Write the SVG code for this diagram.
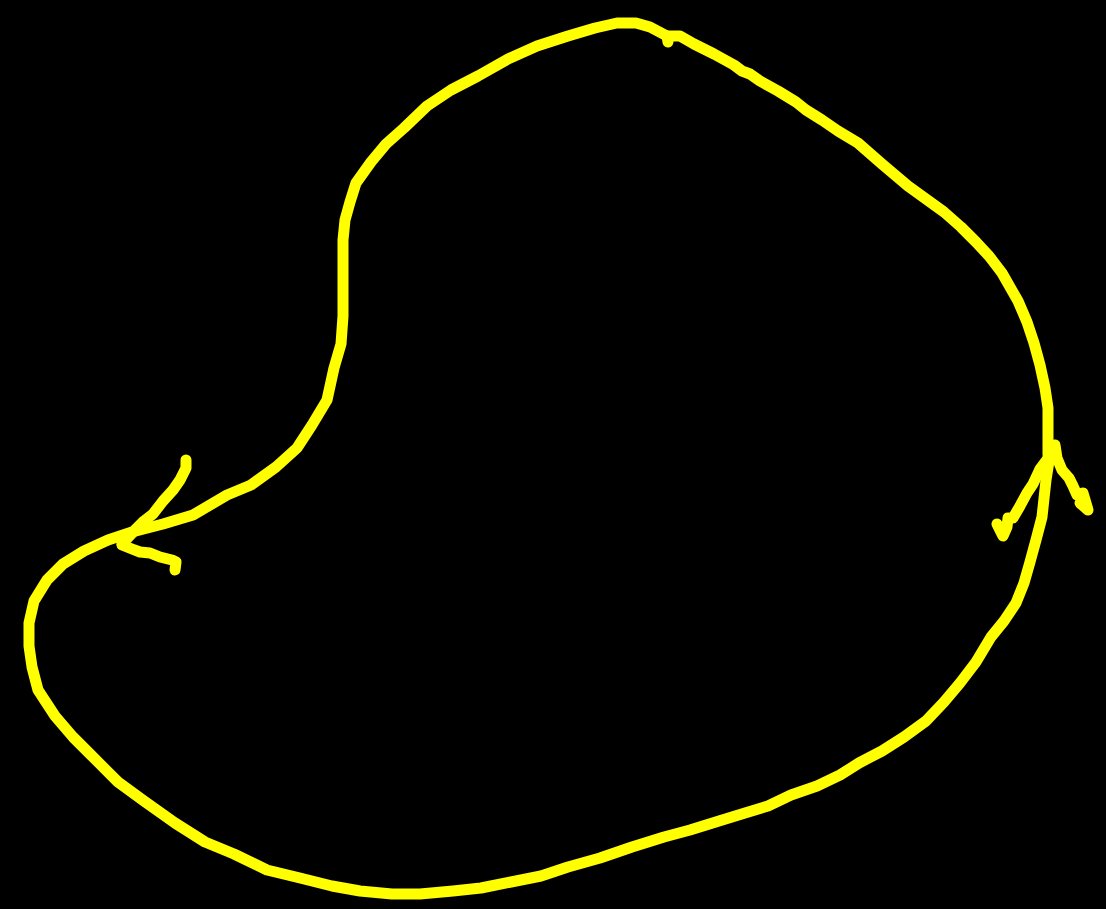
<svg xmlns="http://www.w3.org/2000/svg" width="1106" height="909" viewBox="0 0 1106 909">
<style>
.s{fill:none;stroke:#ffff00;stroke-width:11;stroke-linecap:round;stroke-linejoin:round}
</style>
<rect width="1106" height="909" fill="#000"/>
<g id="connectors">
<polyline class="s" points="1048,455 1048,408 1045,388 1040,365 1034,343 1027,322 1018,301 1002,273 989,256 976,242 961,227 944,212 908,186 882,164 858,143 838,131 822,120 806,110 796,102 778,91 760,81 750,74 742,71 734,65 714,54 694,44 680,36 667,36 650,27 636,23 617,23 595,28 568,36 537,46 508,59 478,76 451,90 427,106 404,128 386,144 371,162 356,183 350,202 345,220 343,240 343,316 341,344 334,368 327,400 312,425 297,448 276,467 251,485 227,495 193,515 163,524 132,532 108,540 84,551 63,564 47,580 34,601 29,623 29,646 32,667 38,690 55,716 73,737 91,755 118,782 144,801 175,823 205,842 234,854 267,870 300,878 332,886 360,891 392,894 420,894 453,891 481,888 511,882 541,876 568,867 600,858 632,847 664,837 690,830 719,821 745,813 768,806 791,795 817,786 840,775 859,763 882,751 904,737 926,721 944,702 960,683 976,662 991,637 1004,621 1016,603 1024,583 1030,562 1036,540 1042,517 1046,480 1050,455"/>
<polyline class="s" points="667,36 668,42"/>
<polyline class="s" points="186,460 186,468 180,480 173,490 163,501 153,514 144,521 135,530 122,544"/>
<polyline class="s" points="122,545 132,549 140,552 150,553 160,557 172,560 176,562 175,570"/>
<polyline class="s" points="1049,457 1040,469 1033,484 1027,493 1020,506 1013,518 1008,518 1007,527 1003,536 997,524"/>
<polyline class="s" points="1055,445 1057,458 1062,470 1069,478 1073,486 1077,495 1083,493 1086,503 1088,510 1080,503"/>
</g>
</svg>
